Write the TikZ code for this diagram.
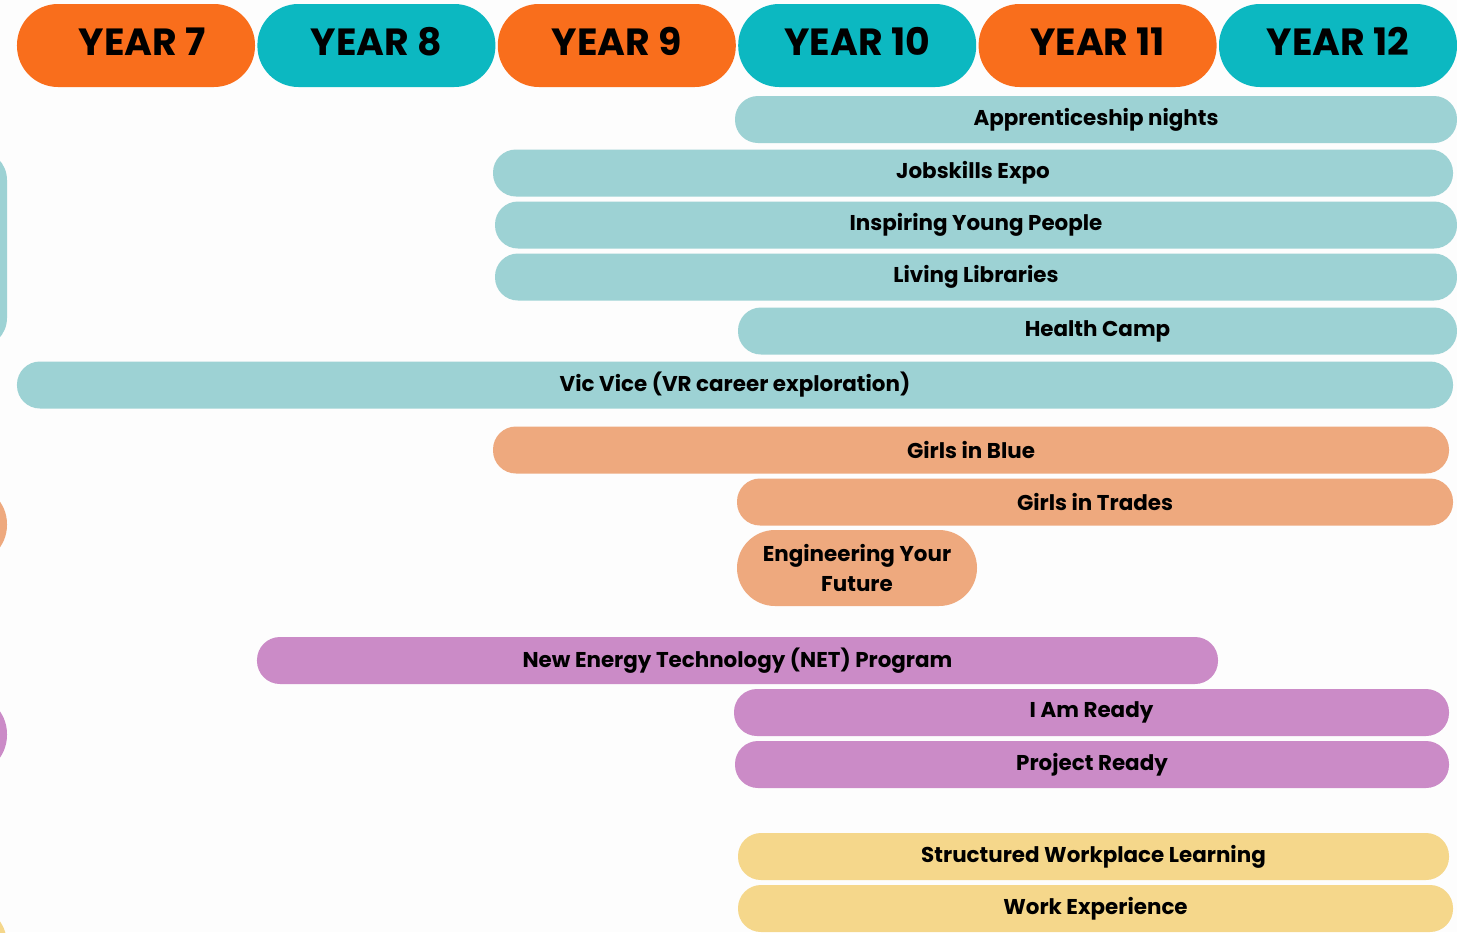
\documentclass[tikz,border=0pt]{standalone}
\usepackage{fontspec}
\setmainfont{Poppins}
\usetikzlibrary{positioning}
\definecolor{yearorange}{HTML}{F96E1C}
\definecolor{yearteal}{HTML}{0CB8C1}
\definecolor{barteal}{HTML}{9DD2D4}
\definecolor{barsalmon}{HTML}{EEA97E}
\definecolor{barpurple}{HTML}{CB8BC7}
\definecolor{baryellow}{HTML}{F5D78B}
\definecolor{paper}{HTML}{FDFDFD}
\tikzset{
	yearhead/.style={fill=#1, rounded corners=41bp, minimum width=238bp, minimum height=83bp, inner sep=0pt, text height=27bp, text depth=8bp, font=\bfseries\fontsize{38}{44}\selectfont},
	bar/.style={fill=#1, rounded corners=23bp, minimum height=47bp, inner sep=0pt, font=\bfseries\fontsize{21.5}{30}\selectfont},
}
\begin{document}
\begin{tikzpicture}[x=1bp,y=-1bp]
		\fill[paper] (0,0) rectangle (1457,932); % page
		\useasboundingbox (0,0) rectangle (1457,932);
		
		% cut-off shapes at the left edge
		\fill[barteal, rounded corners=30bp] (-60,150) rectangle (7,348);
		\fill[barsalmon, rounded corners=39bp] (-100,485) rectangle (7,564);
		\fill[barpurple, rounded corners=40bp] (-100,694) rectangle (7,775);
		\fill[baryellow, rounded corners=40bp] (-100,904) rectangle (7,990);
		
		% year headings
		\node[yearhead=yearorange] (y7) at (136,45.5) {\hspace*{12bp}YEAR 7};
		\node[yearhead=yearteal, right=2bp of y7] (y8) {YEAR 8};
		\node[yearhead=yearorange, right=2bp of y8] (y9) {YEAR 9};
		\node[yearhead=yearteal, right=2bp of y9] (y10) {YEAR 10};
		\node[yearhead=yearorange, right=2bp of y10] (y11) {YEAR 11};
		\node[yearhead=yearteal, right=2bp of y11] (y12) {YEAR 12};
		
		% teal programs
		\node[bar=barteal, minimum width=722bp] (appr) at (1096,119.5) {Apprenticeship nights};
		\node[bar=barteal, minimum width=960bp] (jobs) at (973,173) {Jobskills Expo};
		\node[bar=barteal, minimum width=962bp] (iyp) at (976,225) {Inspiring Young People};
		\node[bar=barteal, minimum width=962bp] (living) at (976,277) {Living Libraries};
		\node[bar=barteal, minimum width=719bp] (health) at (1097.5,331) {Health Camp};
		\node[bar=barteal, minimum width=1436bp] (vicvice) at (735,385) {Vic Vice (VR career exploration)};
		
		% salmon programs
		\node[bar=barsalmon, minimum width=956bp] (blue) at (971,450) {Girls in Blue};
		\node[bar=barsalmon, minimum width=716bp] (trades) at (1095,502) {Girls in Trades};
		\node[bar=barsalmon, minimum width=240bp, minimum height=76bp, rounded corners=38bp, align=center] (eng) at (857,568) {Engineering Your\\Future};
		
		% purple programs
		\node[bar=barpurple, minimum width=961bp] (net) at (737.5,660.5) {New Energy Technology (NET) Program};
		\node[bar=barpurple, minimum width=715bp] (iam) at (1091.5,712.5) {I Am Ready};
		\node[bar=barpurple, minimum width=714bp] (project) at (1092,764.5) {Project Ready};
		
		% yellow programs
		\node[bar=baryellow, minimum width=711bp] (swl) at (1093.5,856.5) {Structured Workplace Learning};
		\node[bar=baryellow, minimum width=715bp] (workexp) at (1095.5,908.5) {Work Experience};
\end{tikzpicture}
\end{document}
